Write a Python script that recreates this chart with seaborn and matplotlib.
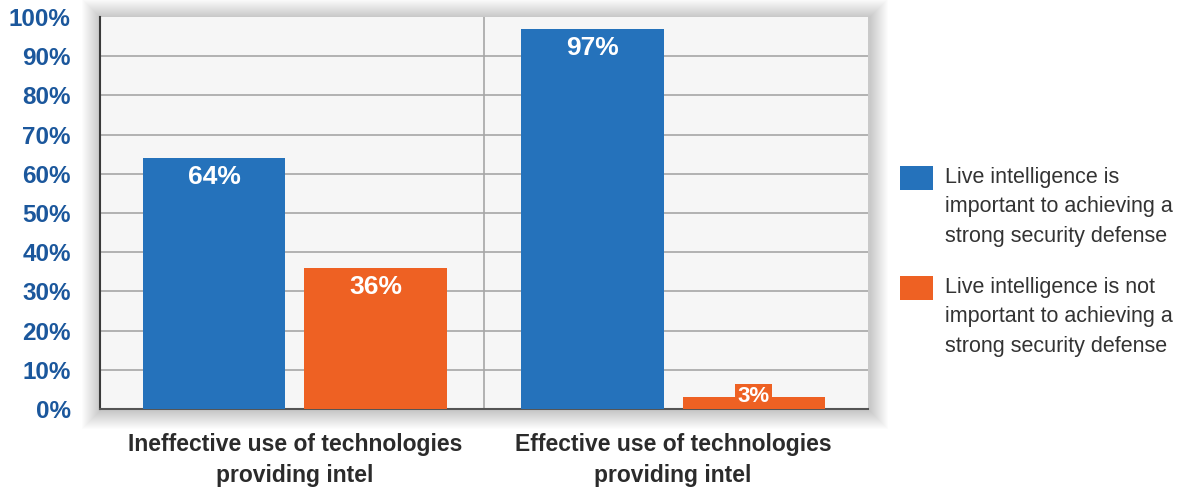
import matplotlib
matplotlib.use('Agg')
import matplotlib.pyplot as plt
from matplotlib.patches import Rectangle
import seaborn as sns
import pandas as pd

groups = ['Ineffective use of technologies\nproviding intel',
          'Effective use of technologies\nproviding intel']
series = ['Live intelligence is\nimportant to achieving a\nstrong security defense',
          'Live intelligence is not\nimportant to achieving a\nstrong security defense']
important = [64, 97]
not_important = [36, 3]
colors = ['#2572BB', '#EE6123']
yticks = list(range(0, 101, 10))
ytick_labels = [f'{t}%' for t in yticks]

df = pd.DataFrame({
    'group': groups + groups,
    'series': [series[0]] * 2 + [series[1]] * 2,
    'value': important + not_important,
})

sns.set_style('white')
plt.rcParams['font.family'] = ['Liberation Sans', 'DejaVu Sans']

W, H = 1187, 490
fig = plt.figure(figsize=(W / 100, H / 100), dpi=100)
ax = fig.add_axes([100 / W, 1 - 409 / H, 768 / W, 392 / H])

# soft drop shadow around the plot area
for i in range(1, 19):
    fig.add_artist(Rectangle(((100 - i) / W, (79 - i) / H), (770 + 2 * i) / W, (394 + 2 * i) / H,
                             transform=fig.transFigure, color='black', alpha=0.012,
                             lw=0, zorder=-1))

ax.set_facecolor('#f6f6f6')
sns.barplot(data=df, x='group', y='value', hue='series', palette=colors,
            width=0.852, gap=0.117, saturation=1, legend=False, ax=ax,
            linewidth=0, edgecolor='none', zorder=3)

ax.set_xlim(-0.515, 1.515)
ax.set_ylim(0, 100)
ax.set_yticks(yticks, labels=ytick_labels, fontweight='bold', fontsize=17.5, color='#1B579C')
ax.set_xticks([0, 1], labels=groups, fontweight='bold', fontsize=16.5, color='#2b2b2b',
              linespacing=1.45)
ax.tick_params(axis='y', length=0, pad=21)
ax.tick_params(axis='x', length=0, pad=17)
ax.set_xlabel('')
ax.set_ylabel('')

ax.yaxis.grid(True, color='#a6a6a6', lw=1.2, zorder=1)
ax.set_axisbelow(True)
ax.get_ygridlines()[-1].set_visible(False)
ax.axvline(0.5, color='#a6a6a6', lw=1.2, zorder=1)

for side in ['top', 'right']:
    ax.spines[side].set_visible(False)
ax.spines['left'].set_color('#3a3a3a')
ax.spines['left'].set_linewidth(1.5)
ax.spines['bottom'].set_color('#555555')
ax.spines['bottom'].set_linewidth(1.5)

# value labels
for container, vals in zip(ax.containers, [important, not_important]):
    for bar, v in zip(container, vals):
        cx = bar.get_x() + bar.get_width() / 2
        if v > 10:
            ax.annotate(f'{v}%', (cx, bar.get_height()), xytext=(0, -5),
                        textcoords='offset points', ha='center', va='top',
                        color='white', fontweight='bold', fontsize=19, zorder=5)
        else:
            ax.annotate(f'{v}%', (cx, 0), xytext=(0, 1.5),
                        textcoords='offset points', ha='center', va='bottom',
                        color='white', fontweight='bold', fontsize=16, zorder=5,
                        bbox=dict(boxstyle='square,pad=0.1', fc=bar.get_facecolor(), ec='none'))

# legend
for i, (name, c) in enumerate(zip(series, colors)):
    top = 166 + i * 110
    fig.add_artist(Rectangle((900 / W, 1 - (top + 24) / H), 33 / W, 24 / H,
                             transform=fig.transFigure, color=c, lw=0))
    fig.text(945 / W, 1 - (top + 1) / H, name, ha='left', va='top',
             fontsize=15.5, color='#333333', linespacing=1.53)

fig.savefig('out.png', dpi=100)
